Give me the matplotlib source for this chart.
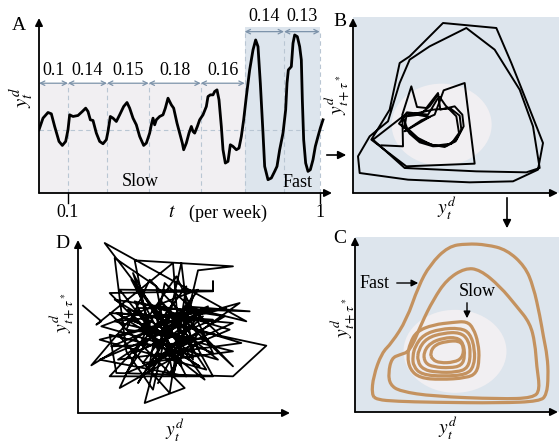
import numpy as np
import matplotlib
matplotlib.use("Agg")
import matplotlib.pyplot as plt
from matplotlib.patches import Rectangle, Ellipse, PathPatch, FancyArrowPatch
from matplotlib.path import Path

plt.rcParams['font.family'] = ['Liberation Serif', 'DejaVu Serif']
plt.rcParams['mathtext.fontset'] = 'stix'

# ---------------- data ----------------
# Panel A: time series (t, y)
ts_t = [0, 1.2, 2.7, 3.7, 4.7, 6.0, 7.0, 8.0, 8.7, 9.2, 10.2, 11.7, 13.0, 14.0, 14.7, 15.4, 16.2,
        17.2, 18.2, 19.2, 20.2, 20.7, 21.4, 22.2, 23.2, 24.2, 25.4, 26.4, 27.2, 28.2, 29.2, 30.2,
        31.4, 32.2, 33.2, 33.7, 34.2, 34.7, 35.2, 36.2, 37.2, 37.9, 38.7, 39.7, 40.4, 41.4, 42.2,
        43.0, 43.4, 44.2, 45.0, 45.7, 46.2, 46.7, 47.5, 48.2, 49.2, 50.2, 50.7, 51.4, 52.2, 52.7,
        53.4, 54.0, 54.7, 55.2, 55.9, 56.7, 57.4, 58.2, 59.2, 60.0, 60.7, 61.4, 62.2, 63.2, 64.2,
        65.0, 65.7, 66.4, 67.2, 67.7, 68.7, 69.7, 70.7, 71.4, 72.2, 73.2, 74.0, 74.4, 74.8, 75.7,
        76.2, 76.7, 77.5, 78.2, 78.7, 79.0, 79.4, 80.0, 80.7, 81.4, 82.2, 82.9, 83.7, 84.4, 85.2]
ts_y = [0, 0.35, 0.52, 0.48, 0.10, -0.35, -0.47, -0.35, 0, 0.45, 0.40, 0.43, 0.55, 0.65, 0.55, 0.30, 0.28,
        -0.10, -0.35, -0.42, -0.30, -0.05, 0.40, 0.35, 0.25, 0.45, 0.70, 0.82, 0.65, 0.35, 0.15, -0.20,
        -0.47, -0.40, -0.10, 0.15, 0.35, 0.15, 0.30, 0.40, 0.45, 0.65, 0.95, 0.75, 0.65, 0.20, -0.10,
        -0.40, -0.60, -0.40, -0.10, 0.10, -0.05, -0.10, 0.10, 0.30, 0.45, 0.70, 1.00, 1.05, 1.05, 1.15,
        1.20, 0.90, 0.10, -0.60, -1.00, -0.95, -0.45, -0.50, -0.60, -0.55, -0.20, 0.30, 1.00, 1.80, 2.40,
        2.70, 2.50, 1.40, -0.10, -1.10, -1.50, -1.45, -1.25, -1.10, -0.60, -0.10, 0.60, 1.40, 1.80, 1.90,
        2.60, 2.85, 2.80, 2.50, 2.10, 0.90, -0.30, -1.00, -1.25, -1.20, -0.90, -0.50, -0.20, 0.05, 0.30]
boundaries_slow = [0, 8.7, 20.4, 32.9, 48.5, 61.7]
periods_slow = ["0.1", "0.14", "0.15", "0.18", "0.16"]
boundaries_fast = [61.7, 73.5, 84.2]
periods_fast = ["0.14", "0.13"]
tick_pos = [8.7, 84.2]
tick_labels = ["0.1", "1"]

# Panel B: delay embedding of raw data (u, v)
b_u = [0.85, 1.50, 1.48, 1.75, 1.92, 2.20, 2.55, 2.62, 3.05, 3.28, 3.32, 3.08, 2.75, 2.35, 1.95, 1.62,
       1.50, 1.62, 2.25, 2.52, 2.60, 2.78, 3.10, 3.18, 2.95, 2.45, 2.00, 1.68, 1.38, 1.62, 2.30, 1.55,
       2.05, 2.45, 2.72, 3.35, 3.65, 1.60, 0.55, 1.10, 1.40, 1.70, 2.70, 4.30, 4.75, 5.05, 5.70, 5.55,
       4.80, 3.50, 1.65, 0.20, 0.15, 0.50, 1.05, 1.40, 1.70, 2.30, 3.40, 4.25, 5.00, 5.40, 5.60, 5.20,
       3.70, 1.55, 0.60, 1.50, 2.40, 2.92, 3.20, 3.25, 3.10, 2.80, 2.40, 2.00, 1.70, 1.55, 1.60, 2.00,
       2.30, 2.55]
b_v = [1.43, 1.40, 2.35, 3.20, 2.58, 2.55, 3.00, 2.50, 2.60, 2.35, 2.00, 1.55, 1.38, 1.45, 1.65, 1.95,
       2.28, 2.42, 2.35, 2.80, 2.88, 2.62, 2.30, 1.80, 1.48, 1.42, 1.58, 1.85, 2.08, 2.40, 2.28, 1.85,
       2.18, 2.35, 3.08, 3.30, 0.88, 0.80, 1.60, 2.50, 3.90, 4.10, 5.10, 4.95, 3.90, 3.15, 1.50, 0.70,
       0.35, 0.32, 0.40, 0.60, 1.10, 1.70, 2.15, 3.30, 4.00, 4.40, 4.95, 4.30, 3.10, 2.00, 0.75, 0.62,
       0.65, 0.75, 1.60, 2.30, 2.50, 2.54, 2.32, 1.90, 1.60, 1.42, 1.40, 1.52, 1.78, 2.00, 2.30, 2.35,
       2.60, 2.95]

# Panel C: smoothed attractor loops (control points)
c_loops_u = [
    [0.50, 0.55, 0.80, 1.10, 1.55, 1.90, 2.25, 2.80, 3.35, 3.95, 4.55, 5.10, 5.35, 5.55, 5.65, 5.77,
     5.80, 5.75, 5.55, 4.35, 2.35, 1.25, 0.65],
    [1.00, 1.10, 1.35, 1.65, 2.00, 2.35, 2.75, 3.30, 3.75, 4.35, 4.85, 5.25, 5.40, 5.45, 5.55, 5.35,
     4.35, 2.35, 1.35, 1.05],
    [1.65, 1.85, 2.35, 2.95, 3.35, 3.55, 3.70, 3.73, 3.65, 3.35, 2.55, 1.95, 1.65, 1.57],
    [1.80, 2.05, 2.55, 3.15, 3.45, 3.60, 3.57, 3.35, 2.65, 2.00, 1.75, 1.73],
    [1.90, 2.15, 2.65, 3.15, 3.40, 3.47, 3.40, 3.05, 2.45, 2.05, 1.87],
    [2.05, 2.25, 2.65, 3.05, 3.25, 3.30, 3.20, 2.85, 2.35, 2.10],
    [2.25, 2.40, 2.75, 3.13, 3.27, 3.22, 2.97, 2.55, 2.32],
]
c_loops_v = [
    [0.52, 1.07, 1.77, 2.07, 2.77, 3.77, 4.42, 4.97, 5.05, 5.02, 4.87, 4.37, 3.77, 2.87, 2.27, 1.67,
     1.07, 0.52, 0.32, 0.27, 0.29, 0.32, 0.37],
    [1.17, 1.62, 1.72, 1.82, 2.67, 3.37, 3.97, 4.32, 4.27, 3.77, 3.17, 2.67, 2.07, 1.37, 0.67, 0.42,
     0.39, 0.47, 0.62, 0.82],
    [2.07, 2.42, 2.62, 2.69, 2.72, 2.52, 2.07, 1.57, 1.17, 1.02, 0.97, 1.02, 1.27, 1.67],
    [1.97, 2.32, 2.49, 2.52, 2.37, 1.87, 1.37, 1.12, 1.07, 1.12, 1.37, 1.67],
    [1.87, 2.22, 2.37, 2.39, 2.17, 1.77, 1.32, 1.19, 1.19, 1.27, 1.52],
    [1.77, 2.07, 2.22, 2.24, 2.07, 1.67, 1.39, 1.32, 1.35, 1.47],
    [1.77, 2.02, 2.12, 2.14, 1.95, 1.62, 1.49, 1.47, 1.57],
]

# Panel D: noisy embedding (u, v)
d_u = [0.15, 0.70, 0.55, 2.85, 3.10, 0.95, 4.05, 4.05, 4.05, 1.25, 2.10, 1.70, 4.65, 3.60, 2.85, 2.35,
       1.10, 1.45, 2.25, 3.10, 3.45, 0.80, 5.05, 3.20, 5.15, 1.85, 0.40, 2.65, 2.00, 3.20, 2.75, 3.65,
       5.65, 4.65, 1.15, 0.95, 3.55, 2.95, 4.65, 2.15, 1.45, 3.85, 1.25, 2.25, 4.45, 0.65, 3.85, 2.45,
       3.25, 1.65, 2.85, 4.05, 0.95, 2.85, 3.45, 1.95, 4.65, 1.10, 3.65, 2.40, 1.70, 4.55, 1.45, 2.85,
       4.05, 0.95, 2.35, 3.25, 2.75, 1.25, 4.85, 2.05, 3.75, 0.65, 3.25, 1.65, 2.45, 4.65, 1.15, 3.65,
       1.85, 2.95, 4.05, 1.30, 3.40, 1.00, 3.90, 2.10, 2.60, 4.30, 1.50, 3.00, 2.20, 4.20, 0.70, 3.60,
       1.80, 2.90, 4.90, 1.20, 3.30, 2.00, 3.80, 1.60, 2.70, 4.40, 1.10, 3.10, 2.40]
d_v = [3.22, 2.75, 2.65, 4.50, 1.40, 3.60, 3.65, 3.95, 3.67, 3.70, 2.60, 4.58, 4.40, 4.28, 1.10, 3.80,
       4.65, 1.85, 0.70, 4.50, 1.60, 5.10, 2.75, 3.20, 3.05, 3.15, 1.43, 2.80, 0.30, 0.75, 1.20, 2.45,
       2.02, 1.10, 1.20, 2.35, 1.70, 3.00, 1.40, 4.00, 2.50, 2.20, 0.75, 2.90, 3.15, 2.20, 1.30, 3.40,
       2.50, 1.80, 2.30, 2.80, 3.00, 1.10, 3.50, 1.50, 1.85, 2.75, 3.00, 2.00, 3.35, 2.50, 1.20, 3.30,
       1.10, 1.10, 2.60, 3.80, 0.60, 2.30, 3.30, 1.30, 2.90, 1.60, 1.10, 4.20, 1.70, 2.70, 3.00, 1.40,
       2.50, 4.10, 1.80, 2.90, 2.10, 2.00, 3.20, 1.20, 3.90, 2.30, 3.10, 1.50, 3.20, 1.60, 2.60, 3.70,
       0.90, 2.70, 2.10, 1.60, 3.00, 2.40, 1.00, 4.00, 1.90, 2.90, 3.40, 2.20, 0.90]

# ---------------- styles ----------------
BG_BLUE = '#dde5ed'
BG_PALE = '#f1eff2'
GUIDE = '#b9c6d3'
ARROWC = '#7d93aa'
BROWN = '#c4925f'
W, H = 559, 443

fig = plt.figure(figsize=(W / 100, H / 100), dpi=100)


def add_axes_px(x0, ytop, w, h):
    ax = fig.add_axes([x0 / W, 1 - (ytop + h) / H, w / W, h / H])
    ax.set_axis_off()
    return ax


def axis_arrows(ax, right=1.0, top=1.0):
    kw = dict(arrowstyle='-|>', lw=1.3, color='k', mutation_scale=11, shrinkA=0, shrinkB=0)
    ax.annotate('', xy=(right, 0), xytext=(0, 0), xycoords='axes fraction',
                arrowprops=kw, annotation_clip=False)
    ax.annotate('', xy=(0, top), xytext=(0, 0), xycoords='axes fraction',
                arrowprops=kw, annotation_clip=False)


def ftext(x, y, s, **kw):
    fig.text(x / W, 1 - y / H, s, ha='center', va='center', **kw)


def farrow(x0, y0, x1, y1, ms=12, lw=1.2):
    fig.add_artist(FancyArrowPatch((x0 / W, 1 - y0 / H), (x1 / W, 1 - y1 / H),
                                   transform=fig.transFigure, arrowstyle='-|>',
                                   mutation_scale=ms, lw=lw, color='k'))


def smooth_closed_path(xs, ys):
    pts = np.column_stack([xs, ys])
    mids = (pts + np.roll(pts, -1, axis=0)) / 2
    verts = [mids[-1]]
    codes = [Path.MOVETO]
    for i in range(len(pts)):
        verts += [pts[i], mids[i]]
        codes += [Path.CURVE3, Path.CURVE3]
    return Path(verts, codes)


# ---------------- Panel A ----------------
axA = add_axes_px(39, 18, 293, 175)
axA.set_xlim(0, 87.9)
axA.set_ylim(-1.9, 3.36)
axA.add_patch(Rectangle((0, -1.9), 61.7, 1.4 + 1.9, fc=BG_PALE, ec='none', zorder=0))
axA.add_patch(Rectangle((61.7, -1.9), 84.2 - 61.7, 3.1 + 1.9, fc=BG_BLUE, ec='none', zorder=0))
axA.plot([0, 85.5], [0, 0], ls=(0, (4, 3)), color=GUIDE, lw=0.8, zorder=1)
for b in boundaries_slow[1:-1]:
    axA.plot([b, b], [-1.9, 1.4], ls=(0, (4, 3)), color=GUIDE, lw=0.8, zorder=1)
for b in boundaries_fast:
    axA.plot([b, b], [-1.9, 3.0], ls=(0, (4, 3)), color=GUIDE, lw=0.8, zorder=1)
akw = dict(arrowstyle='<->', lw=0.9, color=ARROWC, mutation_scale=8, shrinkA=0, shrinkB=0)
for i, lab in enumerate(periods_slow):
    a, b = boundaries_slow[i], boundaries_slow[i + 1]
    axA.annotate('', xy=(a, 1.4), xytext=(b, 1.4), arrowprops=akw)
    axA.text((a + b) / 2, 1.78, lab, ha='center', va='center', fontsize=13)
for i, lab in enumerate(periods_fast):
    a, b = boundaries_fast[i], boundaries_fast[i + 1]
    axA.annotate('', xy=(a, 2.95), xytext=(b, 2.95), arrowprops=akw, annotation_clip=False)
    axA.text((a + b) / 2, 3.42, lab, ha='center', va='center', fontsize=13, clip_on=False)
axA.plot(ts_t, ts_y, color='k', lw=2.0, zorder=3, solid_joinstyle='round')
for tp, tl in zip(tick_pos, tick_labels):
    axA.plot([tp, tp], [-1.9, -2.2], color='k', lw=1.0, clip_on=False)
    axA.text(tp, -2.5, tl, ha='center', va='center', fontsize=13, clip_on=False)
axA.text(30.5, -1.56, 'Slow', ha='center', va='center', fontsize=13)
axA.text(77.6, -1.59, 'Fast', ha='center', va='center', fontsize=13)
axA.text(39.8, -2.5, r'$t$', ha='center', va='center', fontsize=14, clip_on=False)
axA.text(56.6, -2.5, '(per week)', ha='center', va='center', fontsize=13, clip_on=False)
axis_arrows(axA)
ftext(19, 25, 'A', fontsize=14)
ftext(22, 98, r'$y_t^d$', fontsize=15, rotation=90)

# ---------------- Panel B ----------------
axB = add_axes_px(353, 18, 206, 175)
axB.set_xlim(0, 6.18)
axB.set_ylim(0, 5.25)
axB.add_patch(Rectangle((0, 0), 6.18, 5.28, fc=BG_BLUE, ec='none', zorder=0, clip_on=False))
axB.add_patch(Ellipse((2.66, 2.05), 3.0, 2.46, fc=BG_PALE, ec='none', zorder=1))
axB.plot(b_u, b_v, color='k', lw=1.4, zorder=3)
axis_arrows(axB, right=0.995)
ftext(340, 22, 'B', fontsize=14)
ftext(337, 95, r'$y^d_{t+\tau^*}$', fontsize=14, rotation=90)
ftext(447, 208, r'$y_t^d$', fontsize=14)

# ---------------- Panel C ----------------
axC = add_axes_px(355, 237, 204, 175)
axC.set_xlim(0, 6.12)
axC.set_ylim(0, 5.25)
axC.add_patch(Rectangle((0, 0), 6.12, 5.25, fc=BG_BLUE, ec='none', zorder=0))
axC.add_patch(Ellipse((3.0, 1.82), 3.09, 2.49, fc=BG_PALE, ec='none', zorder=1))
for lu, lv in zip(c_loops_u, c_loops_v):
    axC.add_patch(PathPatch(smooth_closed_path(lu, lv), fc='none', ec=BROWN, lw=2.3, zorder=3))
axis_arrows(axC, right=0.995)
ftext(340, 239, 'C', fontsize=14)
ftext(343, 318, r'$y^d_{t+\tau^*}$', fontsize=14, rotation=90)
ftext(448, 428, r'$y_t^d$', fontsize=14)
ftext(375, 283, 'Fast', fontsize=13)
farrow(394, 283, 421, 283, ms=10, lw=1.0)
ftext(477, 292, 'Slow', fontsize=13)
farrow(467, 300, 467, 321, ms=10, lw=1.0)

# ---------------- Panel D ----------------
axD = add_axes_px(78, 240, 212, 173)
axD.set_xlim(0, 6.36)
axD.set_ylim(0, 5.19)
axD.plot(d_u, d_v, color='k', lw=1.3, zorder=3)
axis_arrows(axD)
ftext(62, 244, 'D', fontsize=14)
ftext(62, 313, r'$y^d_{t+\tau^*}$', fontsize=14, rotation=90)
ftext(175, 430, r'$y_t^d$', fontsize=14)

# ---------------- connecting arrows ----------------
farrow(324, 155, 349, 155)
farrow(507, 195, 507, 231)

fig.savefig('out.png', dpi=100)
